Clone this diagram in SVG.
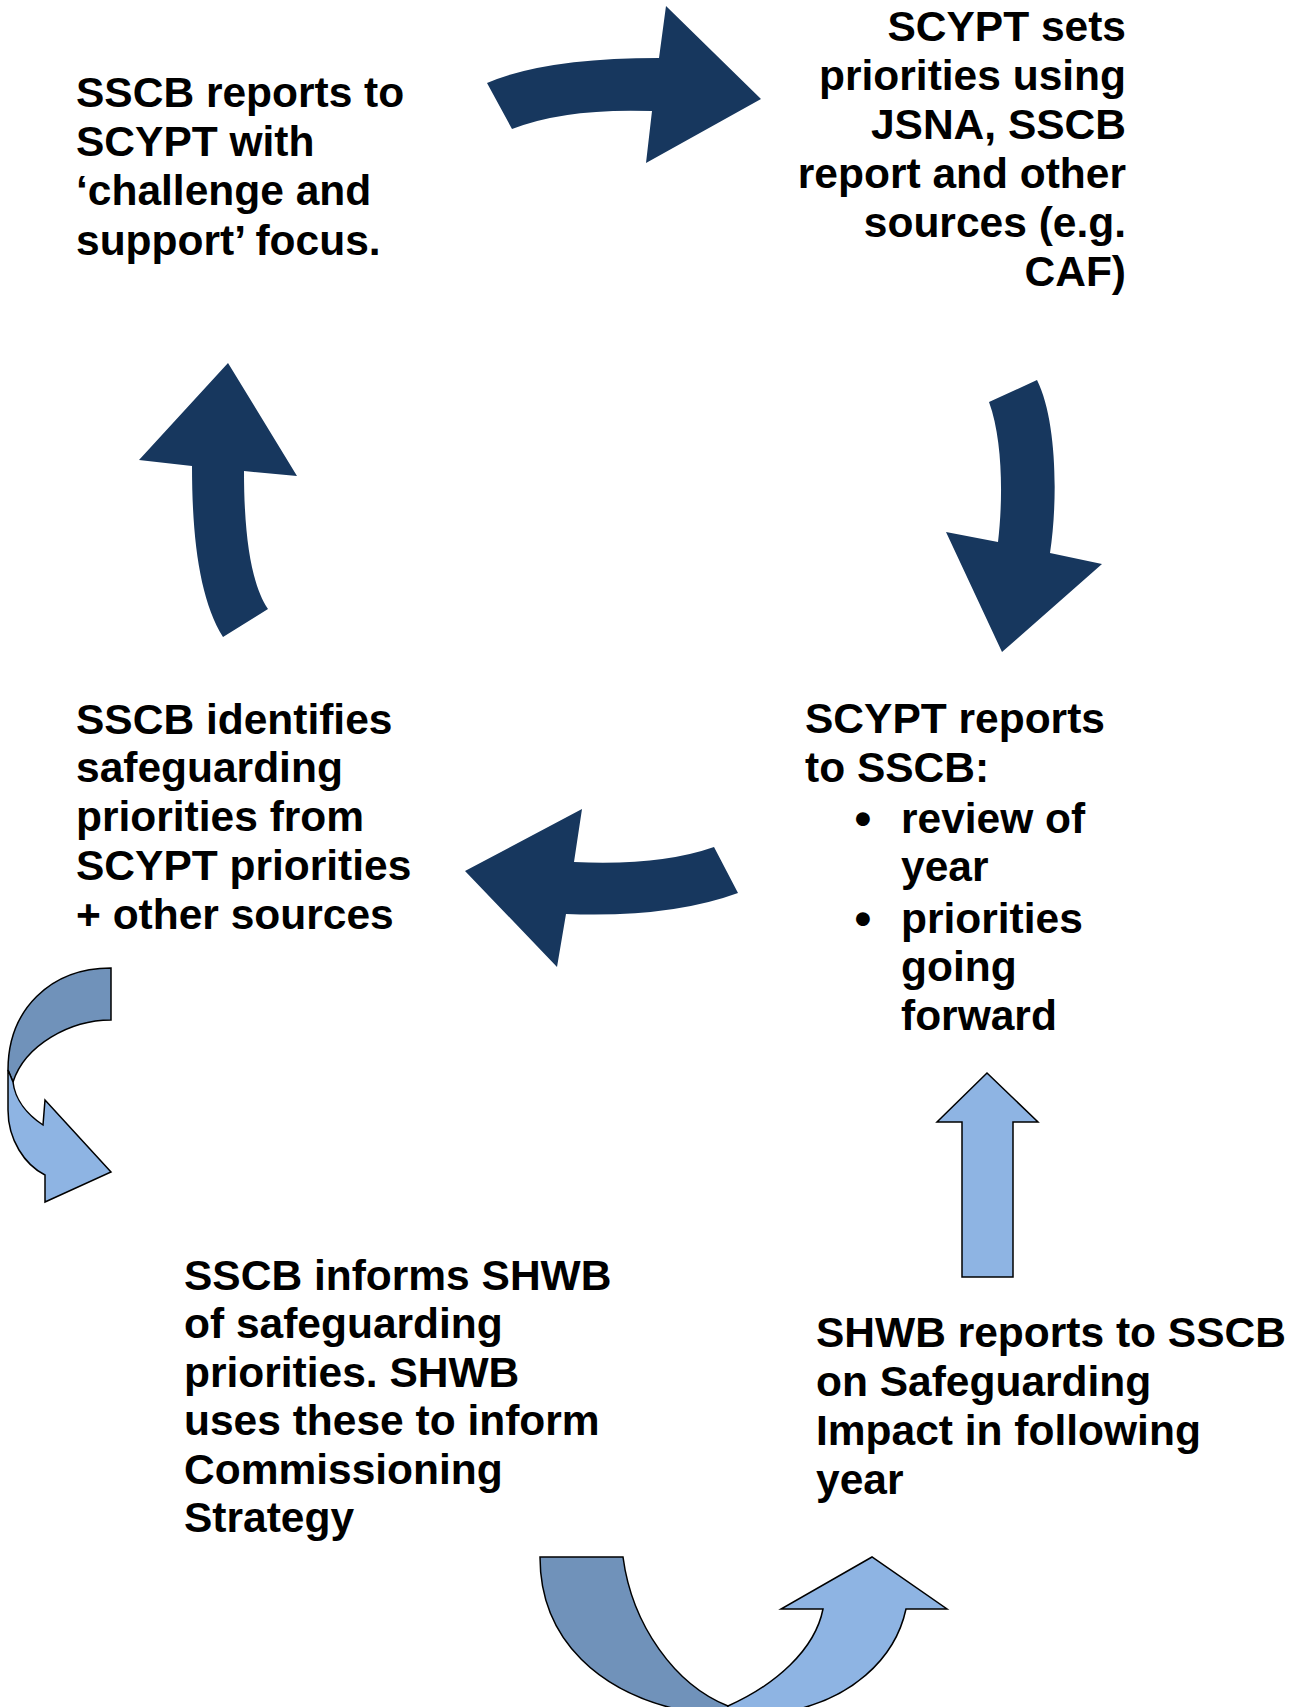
<svg xmlns="http://www.w3.org/2000/svg" width="1304" height="1707" viewBox="0 0 1304 1707">
<style>
.t{font-family:"Liberation Sans",Arial,sans-serif;font-weight:bold;font-size:42.5px;fill:#000}
.r{text-anchor:end}
.b{font-size:48px}
.navy{fill:#17375e}
.dk{fill:#7092ba;stroke:#000;stroke-width:1.5;stroke-linejoin:miter}
.lt{fill:#8eb4e3;stroke:#000;stroke-width:1.5;stroke-linejoin:miter}
</style>
<rect width="1304" height="1707" fill="#fff"/>
<g id="connectors">
<path id="a1" class="navy" d="M487,83 Q545,58 659,58 L666,6 L761,99 L646,163 L652,111 Q565,108 512,129 Z"/>
<path id="a2" class="navy" d="M989,402 C1003,440 1003,500 998,542 L946,532 L1002,652 L1102,564 L1050,553 C1058,500 1057,420 1037,380 Z"/>
<path id="a3" class="navy" d="M228,363 L297,476 L244,471 C244,540 252,585 268,609 L223,637 C200,600 192,540 192,466 L139,460 Z"/>
<path id="a4" class="navy" d="M465,871 L582,809 L574,862 Q660,866 714,847 L738,893 Q670,918 566,914 L557,967 Z"/>
<g id="a5">
<path class="dk" d="M111,968 L111,1020 C70,1020 25,1045 13,1082 L8,1070 C8,1010 50,968 111,968 Z"/>
<path class="lt" d="M8,1070 L8,1110 C8,1140 25,1165 45,1175 L45,1202 L111,1172 L45,1100 L43,1125 C28,1115 15,1100 13,1082 Z"/>
</g>
<path id="a6" class="lt" d="M987,1073 L1038,1122 L1013,1122 L1013,1277 L962,1277 L962,1122 L937,1122 Z"/>
<g id="a7">
<path class="dk" d="M540,1557 L623,1557 C632,1625 675,1685 728,1706 L728,1712 L690,1712 C600,1695 540,1640 540,1557 Z"/>
<path class="lt" d="M728,1706 C775,1685 815,1650 823,1609 L781,1609 L872,1557 L947,1609 L906,1609 C895,1660 850,1700 785,1712 L728,1712 Z"/>
</g>
</g>
<g id="n1">
<text class="t" x="76" y="107">SSCB reports to</text>
<text class="t" x="76" y="156">SCYPT with</text>
<text class="t" x="76" y="205">‘challenge and</text>
<text class="t" x="76" y="254.5">support’ focus.</text>
</g>
<g id="n2">
<text class="t r" x="1126" y="41">SCYPT sets</text>
<text class="t r" x="1126" y="90">priorities using</text>
<text class="t r" x="1126" y="139">JSNA, SSCB</text>
<text class="t r" x="1126" y="188">report and other</text>
<text class="t r" x="1126" y="237">sources (e.g.</text>
<text class="t r" x="1126" y="286">CAF)</text>
</g>
<g id="n3">
<text class="t" x="805" y="733">SCYPT reports</text>
<text class="t" x="805" y="781.5">to SSCB:</text>
<text class="t b" x="854.5" y="835">•</text>
<text class="t" x="901" y="833">review of</text>
<text class="t" x="901" y="881">year</text>
<text class="t b" x="854.5" y="935">•</text>
<text class="t" x="901" y="933">priorities</text>
<text class="t" x="901" y="981">going</text>
<text class="t" x="901" y="1030">forward</text>
</g>
<g id="n4">
<text class="t" x="76" y="733.5">SSCB identifies</text>
<text class="t" x="76" y="782">safeguarding</text>
<text class="t" x="76" y="831">priorities from</text>
<text class="t" x="76" y="880">SCYPT priorities</text>
<text class="t" x="76" y="928.5">+ other sources</text>
</g>
<g id="n5">
<text class="t" x="184" y="1289.5">SSCB informs SHWB</text>
<text class="t" x="184" y="1338">of safeguarding</text>
<text class="t" x="184" y="1386.5">priorities. SHWB</text>
<text class="t" x="184" y="1435">uses these to inform</text>
<text class="t" x="184" y="1483.5">Commissioning</text>
<text class="t" x="184" y="1532">Strategy</text>
</g>
<g id="n6">
<text class="t" x="816" y="1347">SHWB reports to SSCB</text>
<text class="t" x="816" y="1396">on Safeguarding</text>
<text class="t" x="816" y="1445">Impact in following</text>
<text class="t" x="816" y="1494">year</text>
</g>
</svg>
